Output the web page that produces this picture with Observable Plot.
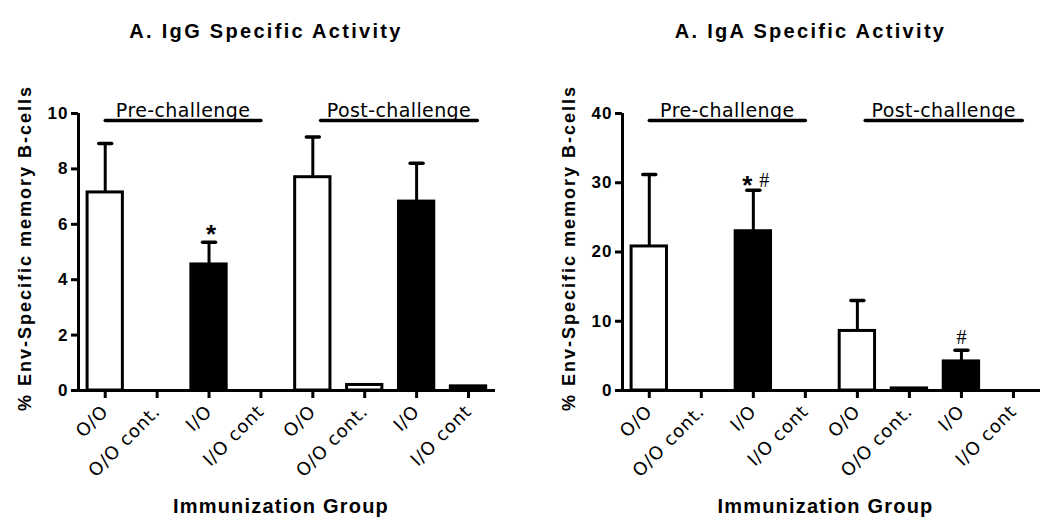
<!DOCTYPE html>
<html><head><meta charset="utf-8">
<script src="https://cdn.jsdelivr.net/npm/d3@7"></script>
<script src="https://cdn.jsdelivr.net/npm/@observablehq/plot@0.6"></script>
<style>
body{margin:0;background:#fff;}
#wrap{display:flex;width:1050px;height:531px;overflow:hidden;}
#wrap svg{flex:none;}
g[aria-label="y-axis tick"], g[aria-label="x-axis tick"]{stroke-width:3px;}
g[aria-label="y-axis tick label"] text{font:bold 17px "Liberation Sans",Arial,sans-serif;letter-spacing:1px;fill:#000;}
g[aria-label="x-axis tick label"] text{font:18px "DejaVu Sans",sans-serif;letter-spacing:0.8px;fill:#000;}
text[aria-label="title"]{font:bold 20px "Liberation Sans",Arial,sans-serif;letter-spacing:2.3px;}
text[aria-label="ylabel"]{font:bold 18px "Liberation Sans",Arial,sans-serif;letter-spacing:2px;}
text[aria-label="xlabel"]{font:bold 20px "Liberation Sans",Arial,sans-serif;letter-spacing:1.2px;}
text[aria-label="bracket label"]{font:19px "DejaVu Sans",sans-serif;letter-spacing:0.4px;}
text[aria-label="star"]{font:bold 26px "Liberation Sans",Arial,sans-serif;}
text[aria-label="hash"]{font:20px "Liberation Serif",serif;}
</style></head><body><div id="wrap"></div>
<script>
// ---- data ----
const categories = ["O/O","O/O cont.","I/O","I/O cont","O/O","O/O cont.","I/O","I/O cont"];
const fillGroup  = ["white","white","black","black","white","white","black","black"];
const iggMean    = [7.15, 0, 4.55, 0, 7.7, 0.2, 6.82, 0.15];
const iggErrTop  = [8.92, null, 5.35, null, 9.15, null, 8.2, null];
const igaMean    = [20.8, 0, 23.0, 0, 8.6, 0.3, 4.2, 0];
const igaErrTop  = [31.2, null, 28.9, null, 13.0, null, 5.8, null];
const iggTicks   = [0, 2, 4, 6, 8, 10];
const igaTicks   = [0, 10, 20, 30, 40];
const bracketLabels = ["Pre-challenge", "Post-challenge"];
const bracketFrom   = [0, 4.15];
const bracketTo     = [3, 7.17];
const iggStars = [2];
const iggHashes = [];
const igaStars = [2];
const igaHashes = [2, 6];
const titles = ["A. IgG Specific Activity", "A. IgA Specific Activity"];
const yLabel = "% Env-Specific memory B-cells";
const xLabel = "Immunization Group";

const xDomain = [-0.515, 7.52];
const halfBar = 0.34;
const halfCap = 0.125;
const tag = s => () => s;

function panel({title, mean, errTop, ticks, stars, hashes, marginLeft, marginRight}) {
  const yMax = ticks[ticks.length - 1];
  const bars = mean.map((v, i) => ({i, v, fill: fillGroup[i]})).filter(d => d.v > 0);
  const errs = errTop.map((e, i) => ({i, v: mean[i], e})).filter(d => d.e != null);
  const brackets = bracketLabels.map((label, k) => ({label, from: bracketFrom[k], to: bracketTo[k], y: yMax * 0.975}));
  const starSolo = stars.filter(i => !hashes.includes(i)).map(i => ({i, e: errTop[i]}));
  const starPair = stars.filter(i => hashes.includes(i)).map(i => ({i, e: errTop[i]}));
  const hashSolo = hashes.filter(i => !stars.includes(i)).map(i => ({i, e: errTop[i]}));
  const hashPair = hashes.filter(i => stars.includes(i)).map(i => ({i, e: errTop[i]}));
  return Plot.plot({
    width: 525, height: 531,
    marginLeft, marginRight, marginTop: 113, marginBottom: 141,
    style: {background: "white", overflow: "visible"},
    x: {type: "linear", domain: xDomain, ticks: d3.range(categories.length), tickFormat: i => categories[i], tickRotate: -45, tickSize: 8, tickPadding: 10, label: null},
    y: {domain: [0, yMax], ticks, tickSize: 7, tickPadding: 3, label: null},
    marks: [
      Plot.rectY(bars, {x1: d => d.i - halfBar, x2: d => d.i + halfBar, y1: 0, y2: "v", fill: "fill", stroke: "black", strokeWidth: 3}),
      Plot.link(errs, {x1: "i", x2: "i", y1: "v", y2: "e", stroke: "black", strokeWidth: 3}),
      Plot.link(errs, {x1: d => d.i - halfCap, x2: d => d.i + halfCap, y1: "e", y2: "e", stroke: "black", strokeWidth: 3.5, strokeLinecap: "round"}),
      Plot.ruleY([0], {stroke: "black", strokeWidth: 3}),
      Plot.ruleX([xDomain[0]], {y1: 0, y2: yMax, stroke: "black", strokeWidth: 3}),
      Plot.link(brackets, {x1: "from", x2: "to", y1: "y", y2: "y", stroke: "black", strokeWidth: 3.5, strokeLinecap: "round"}),
      Plot.text(brackets, {x: d => (d.from + d.to) / 2, y: "y", text: "label", lineAnchor: "bottom", dy: -3, fill: "black", ariaLabel: tag("bracket label")}),
      Plot.text(starSolo, {x: "i", y: "e", text: () => "*", dy: -8, dx: 2, fill: "black", ariaLabel: tag("star")}),
      Plot.text(starPair, {x: "i", y: "e", text: () => "*", dy: -5, dx: -6, fill: "black", ariaLabel: tag("star")}),
      Plot.text(hashSolo, {x: "i", y: "e", text: () => "#", dy: -13, dx: 0, fill: "black", ariaLabel: tag("hash")}),
      Plot.text(hashPair, {x: "i", y: "e", text: () => "#", dy: -10, dx: 11, fill: "black", ariaLabel: tag("hash")}),
      Plot.text([title], {frameAnchor: "top", dy: -90, dx: -21, text: d => d, fill: "black", ariaLabel: tag("title")}),
      Plot.text([yLabel], {frameAnchor: "left", textAnchor: "middle", rotate: -90, dx: -53, dy: -4, text: d => d, fill: "black", ariaLabel: tag("ylabel")}),
      Plot.text([xLabel], {frameAnchor: "bottom", dy: 122, dx: -6, text: d => d, fill: "black", ariaLabel: tag("xlabel")})
    ]
  });
}

const wrap = document.getElementById("wrap");
wrap.append(panel({title: titles[0], mean: iggMean, errTop: iggErrTop, ticks: iggTicks, stars: iggStars, hashes: iggHashes, marginLeft: 78, marginRight: 30}));
wrap.append(panel({title: titles[1], mean: igaMean, errTop: igaErrTop, ticks: igaTicks, stars: igaStars, hashes: igaHashes, marginLeft: 97, marginRight: 10}));
</script>
</body></html>
